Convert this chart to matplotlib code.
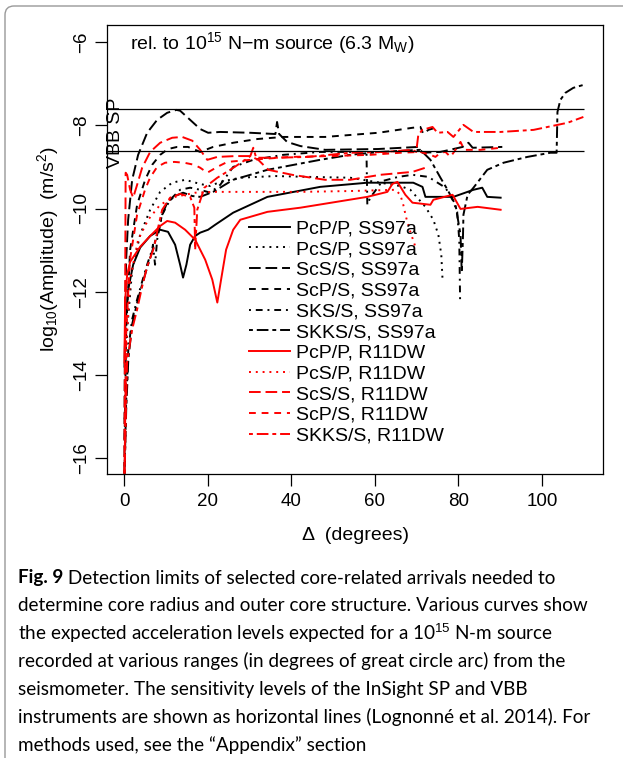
import numpy as np
import matplotlib
matplotlib.use('Agg')
from matplotlib import pyplot as plt
from matplotlib.patches import FancyBboxPatch
from matplotlib.transforms import IdentityTransform

plt.rcParams['font.family'] = ['Liberation Sans', 'DejaVu Sans']
plt.rcParams['mathtext.fontset'] = 'custom'
plt.rcParams['mathtext.rm'] = 'Liberation Sans'
plt.rcParams['mathtext.it'] = 'Liberation Sans:italic'
plt.rcParams['mathtext.bf'] = 'Liberation Sans:bold'

# sensitivity levels (log10 m/s^2)
sp_level = -7.61
vbb_level = -8.62

# --- SS97a model ---
pcp_ss_x = [0.1, 0.24, 0.96, 2.16, 3.83, 6.23, 8.62, 10.5, 12.2, 13.4, 14.1, 14.9, 15.8, 17.0, 18.2,
            20.1, 21.8, 26.1, 34.3, 46.9, 58.2, 69.2, 71.4, 72.1, 78.8, 83.6, 85.7, 86.9, 90.1]
pcp_ss_y = [-13.8, -12.91, -11.95, -11.35, -10.94, -10.66, -10.51, -10.56, -10.87, -11.35, -11.66,
            -11.35, -10.87, -10.66, -10.58, -10.51, -10.39, -10.10, -9.72, -9.48, -9.38, -9.38, -9.48,
            -9.72, -9.72, -9.55, -9.50, -9.72, -9.74]

pcs_ss_x = [0.12, 0.72, 1.92, 3.83, 6.23, 8.62, 11.5, 14.6, 18.2, 20.6, 23.0, 27.8, 36.2, 44.1, 54.1,
            61.3, 66.1, 68.5, 72.1, 74.0, 75.2, 75.9, 76.2]
pcs_ss_y = [-15.07, -12.91, -11.47, -10.63, -10.03, -9.60, -9.38, -9.31, -9.41, -9.46, -9.36, -9.26,
            -9.22, -9.24, -9.26, -9.38, -9.46, -9.55, -9.96, -10.27, -10.63, -11.11, -11.71]

scs_ss_x = [0.07, 0.12, 0.24, 0.48, 0.96, 1.92, 3.35, 5.51, 7.90, 10.3, 12.5, 13.4, 15.8, 18.2, 20.1,
            23.0, 30.2, 36.2, 36.6, 37.1, 39.0, 42.2, 48.1, 60.8, 70.4, 71.4, 75.7, 81.0, 82.4, 83.4, 90.5]
scs_ss_y = [-16.37, -14.59, -12.67, -11.23, -10.27, -9.31, -8.71, -8.18, -7.87, -7.70, -7.63, -7.65,
            -7.87, -8.09, -8.18, -8.16, -8.18, -8.21, -7.92, -8.21, -8.40, -8.50, -8.59, -8.57, -8.52,
            -8.66, -8.64, -8.52, -8.42, -8.54, -8.52]

scp_ss_x = [0.12, 0.48, 1.44, 3.11, 5.03, 6.71, 8.62, 10.5, 12.7, 15.3, 18.2, 21.3, 26.1, 31.9, 38.1,
            48.1, 60.8, 69.0, 70.9, 71.6, 72.8, 74.5]
scp_ss_y = [-15.55, -12.91, -10.99, -9.91, -9.31, -8.95, -8.71, -8.57, -8.52, -8.52, -8.64, -8.52,
            -8.42, -8.33, -8.28, -8.28, -8.18, -8.06, -8.04, -8.21, -8.11, -8.06]

sks_ss_x = [0.1, 0.5, 1.0, 1.9, 3.1, 4.3, 5.5, 6.7, 6.9, 7.4, 7.9, 9.1, 11.0, 13.4, 15.8, 18.2, 20.6,
            23.0, 26.1, 30.9, 38.1, 46.9, 54.1, 58.0, 58.2, 58.9, 61.8, 65.6, 69.0, 72.8, 76.9, 78.6,
            79.7, 80.2, 80.4]
sks_ss_y = [-16.37, -14.59, -13.39, -12.67, -12.19, -11.76, -11.35, -10.99, -10.87, -11.35, -10.75,
            -10.15, -9.79, -9.55, -9.50, -9.55, -9.62, -9.43, -9.00, -8.83, -8.71, -8.64, -8.64, -8.66,
            -9.91, -9.74, -9.34, -9.24, -9.19, -9.24, -9.50, -9.79, -10.08, -10.75, -12.19]

skks_ss_x = [0.1, 0.5, 1.0, 1.9, 3.1, 4.3, 5.5, 6.7, 7.9, 9.1, 10.3, 12.2, 14.1, 16.3, 18.2, 21.3,
             26.1, 34.3, 46.9, 54.1, 61.3, 70.9, 73.3, 75.7, 77.4, 79.3, 80.5, 80.8, 81.1, 81.2, 82.2,
             83.6, 86.9, 90.8, 96.5, 102.0, 103.5, 103.7, 104.4, 105.6, 107.5, 109.9]
skks_ss_y = [-16.37, -14.83, -13.63, -12.79, -12.27, -11.83, -11.42, -11.04, -10.63, -10.15, -9.86,
             -9.70, -9.62, -9.70, -9.72, -9.60, -9.31, -9.07, -8.83, -8.71, -8.64, -8.59, -8.83, -9.26,
             -9.55, -9.91, -10.63, -11.54, -10.63, -10.15, -9.67, -9.50, -9.07, -8.90, -8.76, -8.66,
             -8.66, -7.68, -7.39, -7.22, -7.10, -7.03]

# --- R11DW model ---
pcp_r_x = [0.07, 0.24, 0.72, 1.44, 3.83, 6.23, 8.62, 10.3, 12.2, 14.6, 17.0, 19.4, 21.1, 22.3, 23.2,
           24.4, 26.1, 27.8, 34.3, 42.2, 58.2, 63.0, 64.2, 65.4, 67.3, 69.0, 73.3, 74.0, 78.6, 80.5,
           84.6, 90.1]
pcp_r_y = [-13.70, -12.19, -11.59, -11.28, -10.92, -10.66, -10.42, -10.30, -10.34, -10.51, -10.75,
           -11.23, -11.71, -12.26, -11.71, -10.99, -10.51, -10.27, -10.08, -9.98, -9.72, -9.60, -9.41,
           -9.36, -9.67, -9.86, -9.91, -9.79, -9.67, -10.01, -9.96, -10.03]

pcs_r_x = [0.12, 0.48, 1.44, 3.35, 5.75, 8.62, 12.2, 17.0, 21.8, 32.6, 42.2, 54.1, 64.9, 66.1, 66.8,
           67.5, 68.5, 69.7]
pcs_r_y = [-15.55, -13.39, -11.71, -10.75, -10.27, -9.91, -9.72, -9.62, -9.60, -9.60, -9.60, -9.58,
           -9.55, -9.67, -9.91, -10.22, -10.56, -10.92]

scs_r_x = [0.07, 0.24, 0.36, 0.72, 1.44, 2.16, 3.11, 4.31, 6.23, 8.62, 11.5, 13.9, 16.3, 18.2, 19.9,
           22.3, 26.6, 30.2, 32.1, 34.5, 40.2, 48.1, 54.1, 61.3, 69.0, 72.1]
scs_r_y = [-16.37, -12.19, -9.14, -9.19, -9.55, -9.74, -9.43, -9.02, -8.64, -8.42, -8.30, -8.28,
           -8.37, -8.59, -8.83, -8.76, -8.74, -8.74, -8.83, -9.07, -9.19, -9.31, -9.31, -9.19, -9.12,
           -9.02]

scp_r_x = [0.1, 0.5, 1.4, 3.1, 5.0, 6.2, 7.9, 9.8, 12.0, 14.4, 16.8, 18.2, 19.9, 22.3, 24.7, 30.2,
           39.8, 49.3, 58.9, 66.1, 70.9, 73.3, 74.5, 75.7, 76.9, 78.1, 79.3, 80.5, 81.4, 85.3, 90.1]
scp_r_y = [-16.37, -12.91, -11.23, -10.15, -9.55, -9.26, -9.00, -8.90, -8.88, -8.90, -8.95, -9.02,
           -9.14, -9.00, -8.88, -8.83, -8.76, -8.74, -8.71, -8.66, -8.64, -8.71, -8.76, -8.66, -8.64,
           -8.76, -8.59, -8.40, -8.59, -8.59, -8.54]

skks_r_x = [0.1, 0.7, 1.9, 3.1, 4.3, 5.5, 7.2, 7.9, 9.1, 11.0, 13.4, 15.8, 16.8, 17.0, 17.5, 19.2,
            22.3, 25.4, 29.0, 30.2, 30.9, 31.6, 36.2, 44.1, 54.1, 62.5, 69.0, 69.9, 70.4, 71.4, 73.8,
            75.0, 77.4, 78.8, 81.2, 83.6, 90.1, 98.0, 106.1, 109.9]
skks_r_y = [-16.37, -13.70, -12.91, -12.43, -11.88, -11.40, -10.92, -10.56, -10.03, -9.74, -9.65,
            -9.72, -9.98, -10.99, -10.03, -9.50, -9.26, -9.07, -8.83, -8.74, -8.54, -8.78, -8.78,
            -8.76, -8.66, -8.64, -8.59, -8.64, -8.23, -8.11, -8.04, -8.18, -8.16, -8.28, -7.99, -8.16,
            -8.16, -8.11, -7.94, -7.80]

labels = ['PcP/P, SS97a', 'PcS/P, SS97a', 'ScS/S, SS97a', 'ScP/S, SS97a', 'SKS/S, SS97a',
          'SKKS/S, SS97a', 'PcP/P, R11DW', 'PcS/P, R11DW', 'ScS/S, R11DW', 'ScP/S, R11DW',
          'SKKS/S, R11DW']
xs = [pcp_ss_x, pcs_ss_x, scs_ss_x, scp_ss_x, sks_ss_x, skks_ss_x,
      pcp_r_x, pcs_r_x, scs_r_x, scp_r_x, skks_r_x]
ys = [pcp_ss_y, pcs_ss_y, scs_ss_y, scp_ss_y, sks_ss_y, skks_ss_y,
      pcp_r_y, pcs_r_y, scs_r_y, scp_r_y, skks_r_y]

# R-like line types
solid = None
dotted = (1, 2.5)
longdash = (6, 2.5)
dashed = (3.5, 3)
dotdash = (1, 2.5, 3.5, 2.5)
twodash = (2, 2, 6, 2)
styles = [solid, dotted, longdash, dashed, dotdash, twodash,
          solid, dotted, longdash, dashed, twodash]
colors = ['black'] * 6 + ['#ff0000'] * 5

fs = 14

fig = plt.figure(figsize=(6.23, 7.58), dpi=100)
ax = fig.add_axes([107 / 623, 1 - 474 / 758, 496 / 623, 449 / 758])

for x, y, lab, st, c in zip(xs, ys, labels, styles, colors):
    ln, = ax.plot(x, y, color=c, lw=1.4, label=lab)
    if st is not None:
        ln.set_dashes(st)

ax.hlines([sp_level, vbb_level], -10, 110, color='black', lw=0.9)
ax.text(-2.0, -8.18, 'VBB SP', rotation=90, ha='center', va='center', fontsize=fs)
ax.text(1.4, -6.03, r'rel. to 10$^{15}$ N$-$m source (6.3 M$_{\mathrm{W}}$)',
        ha='left', va='center', fontsize=fs)

ax.set_xlim(-4.1, 114.6)
ax.set_ylim(-16.38, -5.59)
ax.set_xticks([0, 20, 40, 60, 80, 100])
ax.set_yticks([-16, -14, -12, -10, -8, -6])
ax.tick_params(direction='out', length=8.5, width=0.9, labelsize=13.5)
ax.tick_params(axis='y', labelrotation=90, pad=4)
ax.tick_params(axis='x', pad=5)
for lab in ax.get_yticklabels():
    lab.set_va('center')
for sp in ax.spines.values():
    sp.set_linewidth(0.9)

ax.set_ylabel(r'log$_{10}$(Amplitude)  (m/s$^2$)', fontsize=fs)
ax.yaxis.set_label_coords(-0.093, 0.5)
ax.set_xlabel('\u0394  (degrees)', fontsize=fs)
ax.xaxis.set_label_coords(0.5, -0.117)

ax.legend(loc='upper left', bbox_to_anchor=(0.286, 0.566), frameon=False, fontsize=fs,
          borderpad=0, borderaxespad=0, handlelength=2.1, handletextpad=0.35, labelspacing=0.16)

# outer frame of the figure panel
frame = FancyBboxPatch((5, -30), 700, 758 - 6 + 30, boxstyle='round,pad=0,rounding_size=9',
                       transform=IdentityTransform(), fc='none', ec='#999999', lw=1.0)
fig.add_artist(frame)

# caption
cap_font = 'Lato'
cap_size = 13.6
cap_lines = [
    ' Detection limits of selected core-related arrivals needed to',
    'determine core radius and outer core structure. Various curves show',
    'the expected acceleration levels expected for a 10$^{15}$ N-m source',
    'recorded at various ranges (in degrees of great circle arc) from the',
    'seismometer. The sensitivity levels of the InSight SP and VBB',
    'instruments are shown as horizontal lines (Lognonn\u00e9 et al. 2014). For',
    'methods used, see the \u201cAppendix\u201d section',
]
cap_x = 18 / 623
cap_y0 = 578
cap_dy = 27.8
renderer = fig.canvas.get_renderer()
t0 = fig.text(cap_x, 1 - cap_y0 / 758, 'Fig. 9', family=cap_font, weight='bold',
              fontsize=cap_size, va='center', ha='left')
bb = t0.get_window_extent(renderer=renderer)
for i, line in enumerate(cap_lines):
    x = cap_x if i > 0 else bb.x1 / 623
    fig.text(x, 1 - (cap_y0 + i * cap_dy) / 758, line, family=cap_font,
             fontsize=cap_size, va='center', ha='left')

fig.savefig('out.png', dpi=100)
